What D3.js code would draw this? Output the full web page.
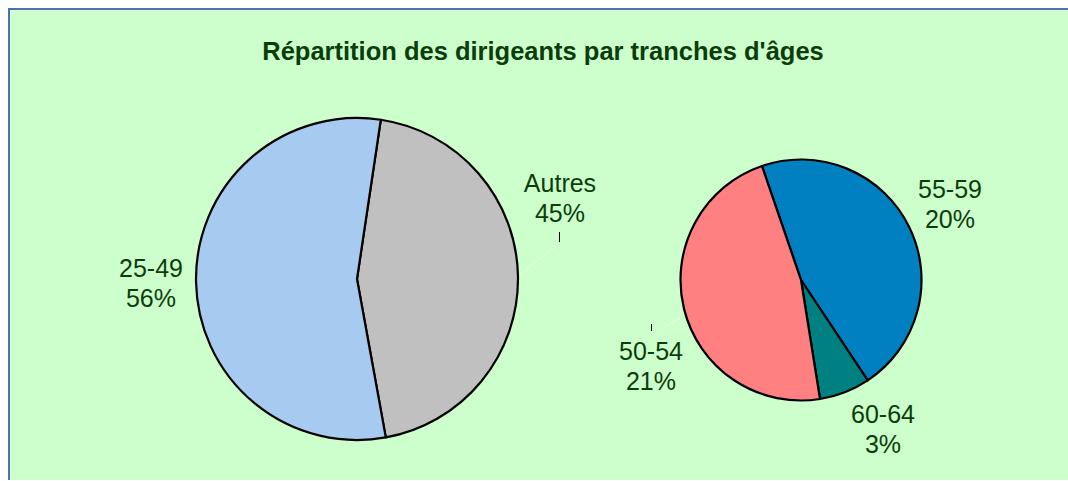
<!DOCTYPE html>
<html>
<head>
<meta charset="utf-8">
<script src="https://cdn.jsdelivr.net/npm/d3@7"></script>
<style>
  html, body { margin: 0; padding: 0; background: #ffffff; }
  svg { display: block; }
  .label { font-family: "Liberation Sans", Arial, sans-serif; font-size: 25px; fill: #0b3d0b; }
  .title { font-family: "Liberation Sans", Arial, sans-serif; font-size: 25.5px; font-weight: bold; fill: #0b3d0b; }
</style>
</head>
<body>
<div id="wrapper"></div>
<script>
// 1. Data

const titleText = "Répartition des dirigeants par tranches d'âges"

// main pie: Autres is split again in the small pie
const mainNames = ["Autres", "25-49"]
const mainValues = [45.0, 55.5]
const mainColors = ["#c0c0c0", "#a6caf0"]

// detail pie (the "Autres" slice)
const detailNames = ["55-59", "60-64", "50-54"]
const detailValues = [20.2, 3.0, 20.8]
const detailColors = ["#0080c0", "#008080", "#ff8080"]

// 2. Dimensions

const dimensions = {
  width: 1068,
  height: 481,
  frame: { left: 9, top: 9 },
}

const mainPie = { cx: 357, cy: 279, r: 161, start: 8.5 }
const detailPie = { cx: 801, cy: 280, r: 120.5, start: -18.9 }

// label anchors (centre x, first baseline)
const labelPos = {
  "Autres": [560, 192],
  "25-49": [151, 277],
  "55-59": [950, 198],
  "60-64": [883, 423],
  "50-54": [651, 360],
}

// 3. Draw canvas

const wrapper = d3.select("#wrapper")
  .append("svg")
    .attr("width", dimensions.width)
    .attr("height", dimensions.height)

wrapper.append("rect")
    .attr("x", dimensions.frame.left)
    .attr("y", dimensions.frame.top)
    .attr("width", dimensions.width - dimensions.frame.left)
    .attr("height", dimensions.height - dimensions.frame.top - 1)
    .attr("fill", "#ccffcc")

wrapper.append("path")
    .attr("d", `M${dimensions.frame.left},${dimensions.height - 1} V${dimensions.frame.top} H${dimensions.width}`)
    .attr("fill", "none")
    .attr("stroke", "#4f6fb3")
    .attr("stroke-width", 2)

wrapper.append("text")
    .attr("class", "title")
    .attr("x", 543)
    .attr("y", 60)
    .attr("text-anchor", "middle")
    .text(titleText)

// 4. Pies

const toRad = deg => deg * Math.PI / 180

function drawPie(names, values, colors, cfg) {
  const data = names.map((name, i) => ({ name, value: values[i], color: colors[i] }))
  const pieGenerator = d3.pie()
    .sort(null)
    .value(d => d.value)
    .startAngle(toRad(cfg.start))
    .endAngle(toRad(cfg.start + 360))

  const arcGenerator = d3.arc()
    .innerRadius(0)
    .outerRadius(cfg.r)

  const g = wrapper.append("g")
      .attr("transform", `translate(${cfg.cx}, ${cfg.cy})`)

  g.selectAll("path")
      .data(pieGenerator(data))
    .enter().append("path")
      .attr("d", arcGenerator)
      .attr("fill", d => d.data.color)
      .attr("stroke", "#000")
      .attr("stroke-width", 2.2)
      .attr("stroke-linejoin", "round")

  data.forEach(d => {
    const [x, y] = labelPos[d.name]
    const t = wrapper.append("text")
        .attr("class", "label")
        .attr("text-anchor", "middle")
    t.append("tspan").attr("x", x).attr("y", y).text(d.name)
    t.append("tspan").attr("x", x).attr("y", y + 30).text(`${Math.round(d.value)}%`)
  })
}

drawPie(mainNames, mainValues, mainColors, mainPie)
drawPie(detailNames, detailValues, detailColors, detailPie)

// leftover leader ticks
const ticks = [[559, 232, 242], [651, 324, 331]]
wrapper.selectAll(".tick-mark")
    .data(ticks)
  .enter().append("line")
    .attr("class", "tick-mark")
    .attr("x1", d => d[0] + 0.5)
    .attr("x2", d => d[0] + 0.5)
    .attr("y1", d => d[1])
    .attr("y2", d => d[2])
    .attr("stroke", "#000")
    .attr("stroke-width", 1)

// faint leader lines
const leaders = [[520, 275, 557, 245], [680, 318, 660, 330]]
wrapper.selectAll(".leader")
    .data(leaders)
  .enter().append("line")
    .attr("x1", d => d[0])
    .attr("y1", d => d[1])
    .attr("x2", d => d[2])
    .attr("y2", d => d[3])
    .attr("stroke", "#e4ffe4")
    .attr("stroke-width", 1)
</script>
</body>
</html>
